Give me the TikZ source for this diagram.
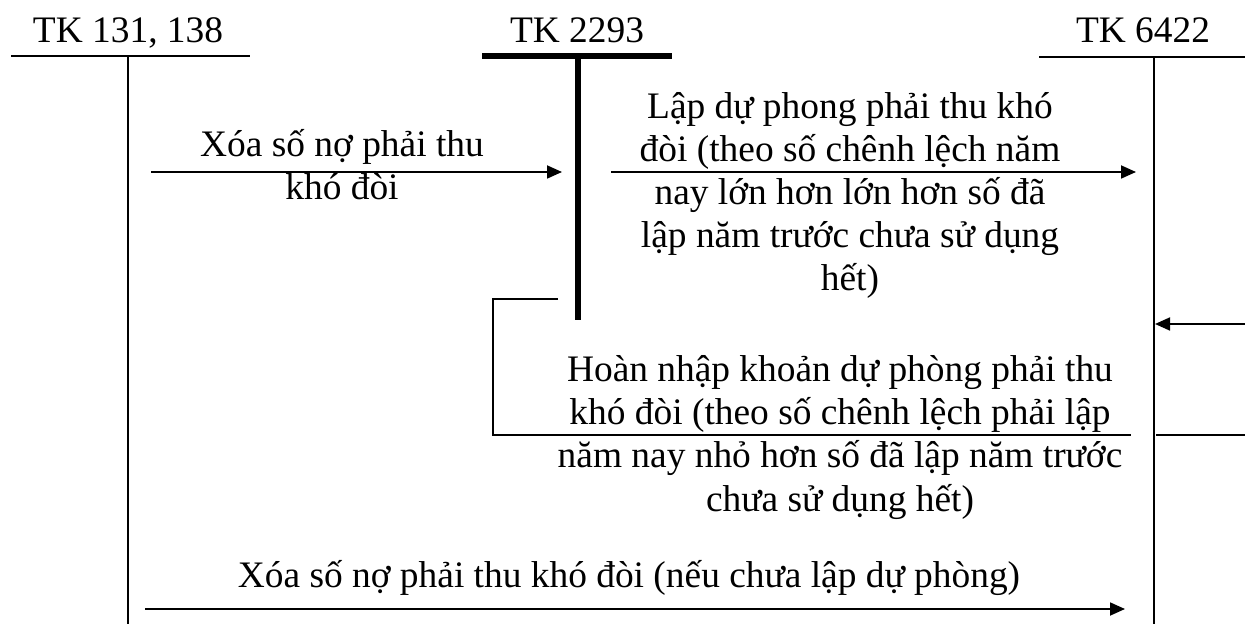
\documentclass[tikz,border=0pt]{standalone}
\usepackage{fontspec}
\setmainfont{Liberation Serif}
\usetikzlibrary{arrows.meta}
\begin{document}
\begin{tikzpicture}[x=0.5pt,y=-0.5pt,
  acc/.style={line width=0.9pt},
  accbold/.style={line width=3.2pt},
  link/.style={line width=0.9pt},
  arr/.style={line width=0.9pt,-{Triangle[length=7.5pt,width=6.5pt]}},
  lbl/.style={font=\fontsize{18.7pt}{21.6pt}\selectfont, inner sep=0pt, align=center, anchor=base}]
\useasboundingbox (0,0) rectangle (1245,624);

% T-account titles
\node[lbl] (t1) at (128,43) {TK 131, 138};
\node[lbl] (t2) at (577,43) {TK 2293};
\node[lbl] (t3) at (1143,43) {TK 6422};

% T-account frames
\coordinate (t1l) at (11,56);   \coordinate (t1r) at (250,56);
\coordinate (t1top) at (128,56); \coordinate (t1bot) at (128,624);
\coordinate (t2l) at (482,56);  \coordinate (t2r) at (672,56);
\coordinate (t2top) at (578,56); \coordinate (t2bot) at (578,320);
\coordinate (t3l) at (1039,57); \coordinate (t3r) at (1245,57);
\coordinate (t3top) at (1154,57); \coordinate (t3bot) at (1154,624);

\draw[acc] (t1l) -- (t1r);
\draw[acc] (t1top) -- (t1bot);
\draw[accbold] (t2l) -- (t2r);
\draw[accbold] (t2top) -- (t2bot);
\draw[acc] (t3l) -- (t3r);
\draw[acc] (t3top) -- (t3bot);

% Write-off against the provision (node base = last line)
\coordinate (a1s) at (151,172); \coordinate (a1e) at (562,172);
\draw[arr] (a1s) -- (a1e);
\node[lbl] (l1) at (342,200) {Xóa số nợ phải thu\\khó đòi};

% Setting up the provision
\coordinate (a2s) at (611,172); \coordinate (a2e) at (1136,172);
\draw[arr] (a2s) -- (a2e);
\node[lbl] (l2) at (850,291) {Lập dự phong phải thu khó\\đòi (theo số chênh lệch năm\\nay lớn hơn lớn hơn số đã\\lập năm trước chưa sử dụng\\hết)};

% Reversal of the provision
\coordinate (r1) at (558,299); \coordinate (r2) at (493,299);
\coordinate (r3) at (493,435); \coordinate (r4) at (1131,435);
\draw[link] (r1) -- (r2) -- (r3) -- (r4);
\coordinate (r5) at (1156,435); \coordinate (r6) at (1245,435);
\draw[link] (r5) -- (r6);
\coordinate (r7) at (1245,324); \coordinate (r8) at (1155,324);
\draw[arr] (r7) -- (r8);
\node[lbl] (l3) at (840,511) {Hoàn nhập khoản dự phòng phải thu\\khó đòi (theo số chênh lệch phải lập\\năm nay nhỏ hơn số đã lập năm trước\\chưa sử dụng hết)};

% Direct write-off
\coordinate (a4s) at (145,609); \coordinate (a4e) at (1125,609);
\draw[arr] (a4s) -- (a4e);
\node[lbl] (l4) at (629,587) {Xóa số nợ phải thu khó đòi (nếu chưa lập dự phòng)};
\end{tikzpicture}
\end{document}
